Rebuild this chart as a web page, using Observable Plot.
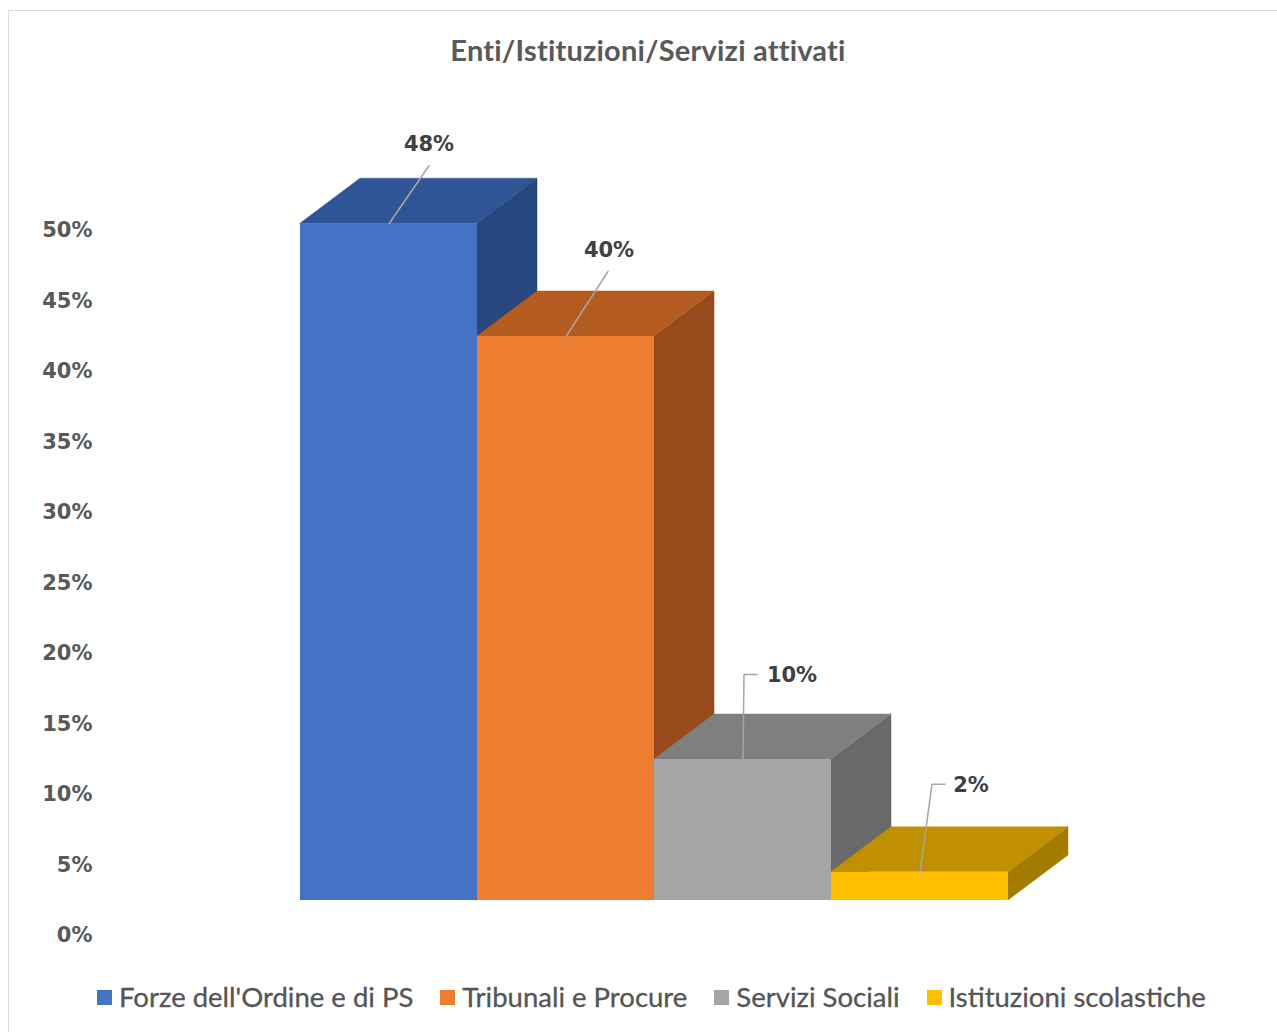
<!DOCTYPE html>
<html>
<head>
<meta charset="utf-8">
<script src="https://cdn.jsdelivr.net/npm/d3@7"></script>
<script src="https://cdn.jsdelivr.net/npm/@observablehq/plot@0.6"></script>
<style>
  html, body { margin: 0; padding: 0; background: #fff; overflow: hidden; }
  #page { position: relative; width: 1277px; height: 1032px; }
  #frame { position: absolute; left: 8px; top: 10px; width: 1300px; height: 1100px; border: 1px solid #d9d9d9; box-sizing: border-box; }
  #title { position: absolute; top: 32px; left: 0; width: 1296px; line-height: 36px; text-align: center; font-family: Lato, "Open Sans", sans-serif; font-weight: 700; font-size: 29px; letter-spacing: 0.2px; color: #595959; }
  #chart { position: absolute; top: 90px; left: 0; }
  #legend { position: absolute; top: 980px; left: 97px; display: flex; align-items: center; font-family: Lato, "Open Sans", sans-serif; font-size: 27.5px; line-height: 34px; color: #555; white-space: nowrap; -webkit-text-stroke: 0.3px #555; }
  .item { display: flex; align-items: center; margin-right: 27px; }
  .sw { width: 15px; height: 15px; margin-right: 7px; }
</style>
</head>
<body>
<div id="page">
  <div id="frame"></div>
  <div id="title">Enti/Istituzioni/Servizi attivati</div>
  <div id="chart"></div>
  <div id="legend"></div>
</div>
<script>
// ---- data ----
const categories = ["Forze dell'Ordine e di PS", "Tribunali e Procure", "Servizi Sociali", "Istituzioni scolastiche"];
const values = [0.48, 0.40, 0.10, 0.02];
const yTicks = [0, 0.05, 0.10, 0.15, 0.20, 0.25, 0.30, 0.35, 0.40, 0.45, 0.50];

// ---- styles ----
const frontColors = ["#4472C4", "#ED7D31", "#A5A5A5", "#FFC000"];
const topColors   = ["#2F5597", "#B45B20", "#7F7F7F", "#C09000"];
const sideColors  = ["#29477F", "#974B1C", "#696969", "#A37B00"];

// ---- layout (pixel -> data unit conversions for the fake 3D) ----
const W = 1277, H = 870;
const mL = 300, mR = 209, mT = 140, mB = 25;
const DEPTH_PX_X = 60, DEPTH_PX_Y = 45, FLOOR_PX = 35;
const BAR_PX = 177;
const xMax = 4 + DEPTH_PX_X / BAR_PX;
const xPerPx = xMax / (W - mL - mR);
const yPerPx = 0.5 / (H - mT - mB);
const DX = DEPTH_PX_X * xPerPx;
const DY = DEPTH_PX_Y * yPerPx;
const BASE = FLOOR_PX * yPerPx;

// label offsets and leader paths (pixels relative to the front-top centre of each bar)
const labelOffsets = [[39, -79], [42, -86], [48, -84], [50, -87]];
const leaderPaths = [
  [[40, -58]],
  [[42, -65]],
  [[1, -85], [14, -85]],
  [[12, -88], [25, -88]]
];

const idx = categories.map((_, i) => i);

const fronts = idx.map(i => ({i, x1: i, x2: i + 1, y1: BASE, y2: BASE + values[i], c: frontColors[i]}));
const sides = idx.flatMap(i => [
  {i, x: i + 1, y1: BASE, y2: BASE + values[i], c: sideColors[i]},
  {i, x: i + 1 + DX, y1: BASE + DY, y2: BASE + values[i] + DY, c: sideColors[i]}
]);
const tops = idx.flatMap(i => [
  {i, y: BASE + values[i], x1: i, x2: i + 1, c: topColors[i]},
  {i, y: BASE + values[i] + DY, x1: i + DX, x2: i + 1 + DX, c: topColors[i]}
]);
const leaders = idx.flatMap(i => {
  const ax = i + 0.5, ay = BASE + values[i];
  return [{i, x: ax, y: ay}, ...leaderPaths[i].map(([dx, dy]) => ({i, x: ax + dx * xPerPx, y: ay - dy * yPerPx}))];
});
const labels = idx.map(i => ({
  x: i + 0.5 + labelOffsets[i][0] * xPerPx,
  y: BASE + values[i] - labelOffsets[i][1] * yPerPx,
  t: Math.round(values[i] * 100) + "%"
}));

const chart = Plot.plot({
  width: W, height: H,
  marginLeft: mL, marginRight: mR, marginTop: mT, marginBottom: mB,
  x: {domain: [0, xMax], axis: null},
  y: {domain: [0, 0.5], axis: null},
  color: {type: "identity"},
  style: {fontFamily: "'DejaVu Sans', sans-serif", fontWeight: "bold", fontSize: "21px", background: "transparent", overflow: "visible"},
  marks: [
    Plot.axisY({ticks: yTicks, tickSize: 0, tickPadding: 208, tickFormat: d => Math.round(d * 100) + "%", color: "#595959", fontSize: 21, letterSpacing: 1.8}),
    Plot.areaY(sides, {x: "x", y1: "y1", y2: "y2", z: "i", fill: "c", stroke: "c", strokeWidth: 0.5}),
    Plot.areaX(tops, {y: "y", x1: "x1", x2: "x2", z: "i", fill: "c", stroke: "c", strokeWidth: 0.5}),
    Plot.rect(fronts, {x1: "x1", x2: "x2", y1: "y1", y2: "y2", fill: "c"}),
    Plot.line(leaders, {x: "x", y: "y", z: "i", stroke: "#A6A6A6", strokeWidth: 1.5, curve: "linear"}),
    Plot.text(labels, {x: "x", y: "y", dx: 1, text: "t", fill: "#404040", fontSize: 21, fontWeight: "bold", letterSpacing: 1.6})
  ]
});
document.getElementById("chart").appendChild(chart);

const legend = document.getElementById("legend");
categories.forEach((c, i) => {
  const it = document.createElement("div");
  it.className = "item";
  it.innerHTML = `<div class="sw" style="background:${frontColors[i]}"></div><span>${c}</span>`;
  legend.appendChild(it);
});
</script>
</body>
</html>
